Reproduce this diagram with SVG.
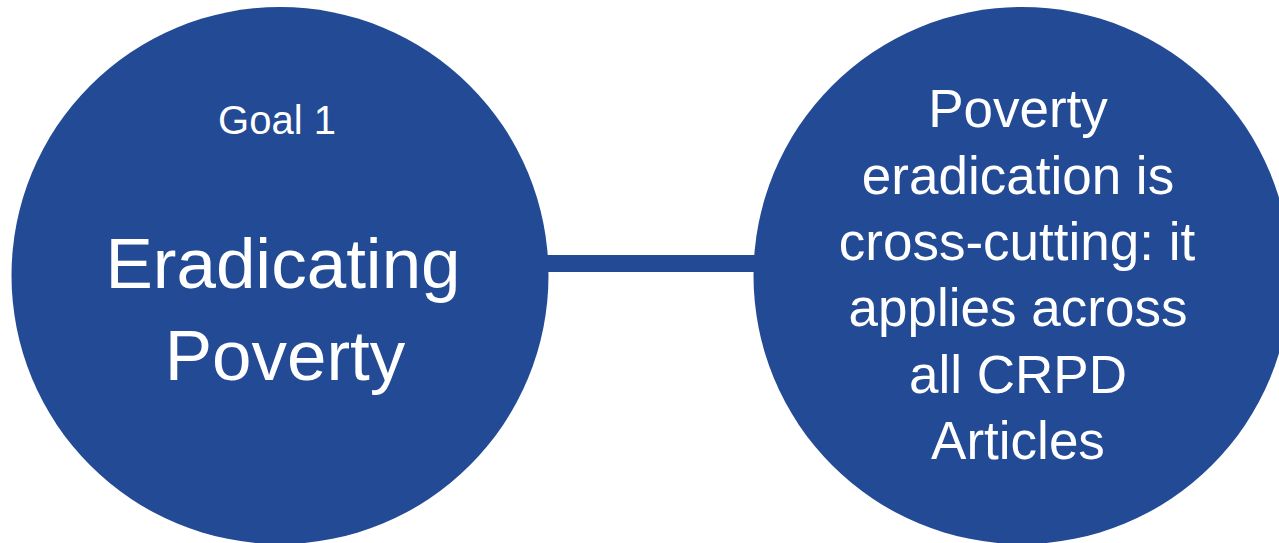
<svg xmlns="http://www.w3.org/2000/svg" width="1279" height="543" viewBox="0 0 1279 543">
<style>
.node{fill:#234a95}
.t{fill:#ffffff;font-family:"Liberation Sans",Arial,sans-serif;text-anchor:middle}
.r{font-size:53px}
.conn{stroke:#234a95;stroke-width:17;fill:none}
</style>
<rect width="1279" height="543" fill="#ffffff"/>
<g id="connectors">
<line class="conn" x1="540" y1="263.5" x2="765" y2="263.5"/>
</g>
<g id="node-goal1">
<circle class="node" cx="280" cy="275.5" r="268.5"/>
<text class="t" x="277" y="134" font-size="40">Goal 1</text>
<text class="t" x="283" y="287.5" font-size="71">Eradicating</text>
<text class="t" x="285" y="380" font-size="71">Poverty</text>
</g>
<g id="node-crosscutting">
<circle class="node" cx="1022" cy="275.5" r="268.5"/>
<text class="t r" x="1018" y="127">Poverty</text>
<text class="t r" x="1018" y="193.5">eradication is</text>
<text class="t r" x="1017" y="260">cross-cutting: it</text>
<text class="t r" x="1018" y="326">applies across</text>
<text class="t r" x="1018" y="393">all CRPD</text>
<text class="t r" x="1018" y="459">Articles</text>
</g>
</svg>
